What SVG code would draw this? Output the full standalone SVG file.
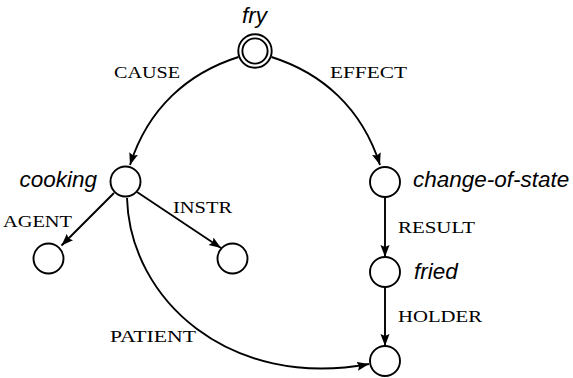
<svg xmlns="http://www.w3.org/2000/svg" width="573" height="378" viewBox="0 0 573 378">
<style>
.n{fill:#fff;stroke:#000;stroke-width:1.9}
.e{fill:none;stroke:#000;stroke-width:1.9;marker-end:url(#ah)}
.nl{font-family:"Liberation Sans",Arial,sans-serif;font-style:italic;font-size:22.5px;fill:#000}
.el{font-family:"Liberation Serif","Times New Roman",serif;font-size:17.5px;fill:#000}
</style>
<defs>
<marker id="ah" markerUnits="userSpaceOnUse" markerWidth="14" markerHeight="10" refX="12" refY="4.5" orient="auto">
<path d="M0,0 L12,4.5 L0,9 L2,4.5 z" fill="#000"/>
</marker>
</defs>
<rect width="573" height="378" fill="#fff"/>
<g id="connectors">
<path class="e" d="M238.5,57 C188,73 148,108 130,165"/>
<path class="e" d="M271.5,57 C322,73 362,108 380,165"/>
<path class="e" d="M114,193 L61.5,245.5"/>
<path class="e" d="M137,192 L221,248"/>
<path class="e" d="M385,197 L385,257"/>
<path class="e" d="M385,287 L385,346"/>
<path class="e" d="M127,198 C130,300 230,390 369,364"/>
</g>
<g id="edge-labels">
<text class="el" x="114" y="78" textLength="66" lengthAdjust="spacingAndGlyphs">CAUSE</text>
<text class="el" x="330" y="78" textLength="77" lengthAdjust="spacingAndGlyphs">EFFECT</text>
<text class="el" x="3" y="227" textLength="69" lengthAdjust="spacingAndGlyphs">AGENT</text>
<text class="el" x="173" y="212.5" textLength="59" lengthAdjust="spacingAndGlyphs">INSTR</text>
<text class="el" x="398" y="233" textLength="77" lengthAdjust="spacingAndGlyphs">RESULT</text>
<text class="el" x="398" y="322" textLength="84" lengthAdjust="spacingAndGlyphs">HOLDER</text>
<text class="el" x="110" y="342" textLength="86" lengthAdjust="spacingAndGlyphs">PATIENT</text>
</g>
<g id="fry">
<circle class="n" cx="255" cy="51" r="16.7"/>
<circle class="n" cx="255" cy="51" r="12.6"/>
<text class="nl" x="254.5" y="22.7" text-anchor="middle">fry</text>
</g>
<g id="cooking">
<circle class="n" cx="125.5" cy="181.5" r="15"/>
<text class="nl" x="97" y="187.3" text-anchor="end">cooking</text>
</g>
<g id="agent">
<circle class="n" cx="48.5" cy="258.5" r="15"/>
</g>
<g id="instr">
<circle class="n" cx="232.5" cy="258.5" r="15"/>
</g>
<g id="change-of-state">
<circle class="n" cx="385" cy="182" r="15"/>
<text class="nl" x="413" y="187" >change-of-state</text>
</g>
<g id="fried">
<circle class="n" cx="385" cy="272" r="15"/>
<text class="nl" x="414" y="279">fried</text>
</g>
<g id="holder">
<circle class="n" cx="385" cy="361" r="15"/>
</g>
</svg>
